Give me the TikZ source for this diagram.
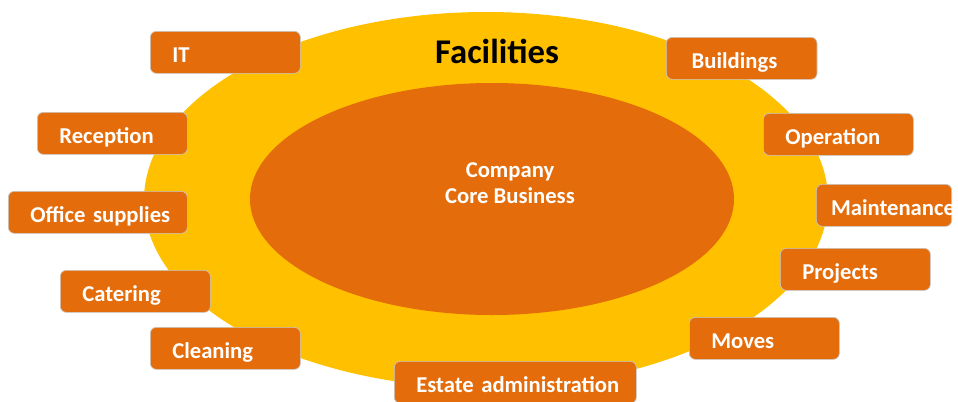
\documentclass[tikz,border=0pt]{standalone}
\usepackage{fontspec}
\setmainfont{Carlito}
\usetikzlibrary{shapes.geometric}
\definecolor{facyellow}{HTML}{FFC000}
\definecolor{faccore}{HTML}{E46C0A}
\tikzstyle{area} = [ellipse, inner sep=0pt]
\tikzstyle{service} = [rectangle, draw=black!22, line width=0.5pt, fill=faccore,
    rounded corners=4.5pt, anchor=north west, minimum height=31.5pt,
    inner xsep=16.5pt, text width=79.5pt, align=left, text height=14.5pt,
    text depth=0pt, text=white, font=\bfseries\fontsize{17}{20}\selectfont]

\begin{document}
\begin{tikzpicture}[x=0.75pt, y=-0.75pt]
  \useasboundingbox (0,0) rectangle (958,401);
  % Areas
  \node[area, fill=facyellow, minimum width=513pt, minimum height=282pt] (facilities) at (486,200) {};
  \node[area, fill=faccore, minimum width=363pt, minimum height=174pt] (core) at (492,199) {};
  \node[font=\bfseries\fontsize{26}{30}\selectfont] (title) at (497,51) {Facilities};
  \node[text=white, align=center, font=\bfseries\fontsize{17}{19.5}\selectfont] (corelabel) at (510,183) {Company\\ Core Business};

  % Services, left side
  \node[service] (it)        at (150,31)  {IT};
  \node[service] (reception) at (37,112)  {Reception};
  \node[service, text width=101.25pt] (supplies) at (8,191) {\mbox{Office supplies}};
  \node[service] (catering)  at (60,270)  {Catering};
  \node[service] (cleaning)  at (150,327) {Cleaning};
  \node[service, text width=148.5pt] (estate) at (394,361) {\mbox{Estate administration}};
  % Services, right side
  \node[service, inner xsep=19pt, text width=75pt] (buildings) at (666,37) {Buildings};
  \node[service] (operation)   at (763,113) {Operation};
  \node[service, inner xsep=11pt] (maintenance) at (816,184) {Maintenance};
  \node[service] (projects)    at (780,248) {Projects};
  \node[service] (moves)       at (689,317) {Moves};
\end{tikzpicture}
\end{document}
